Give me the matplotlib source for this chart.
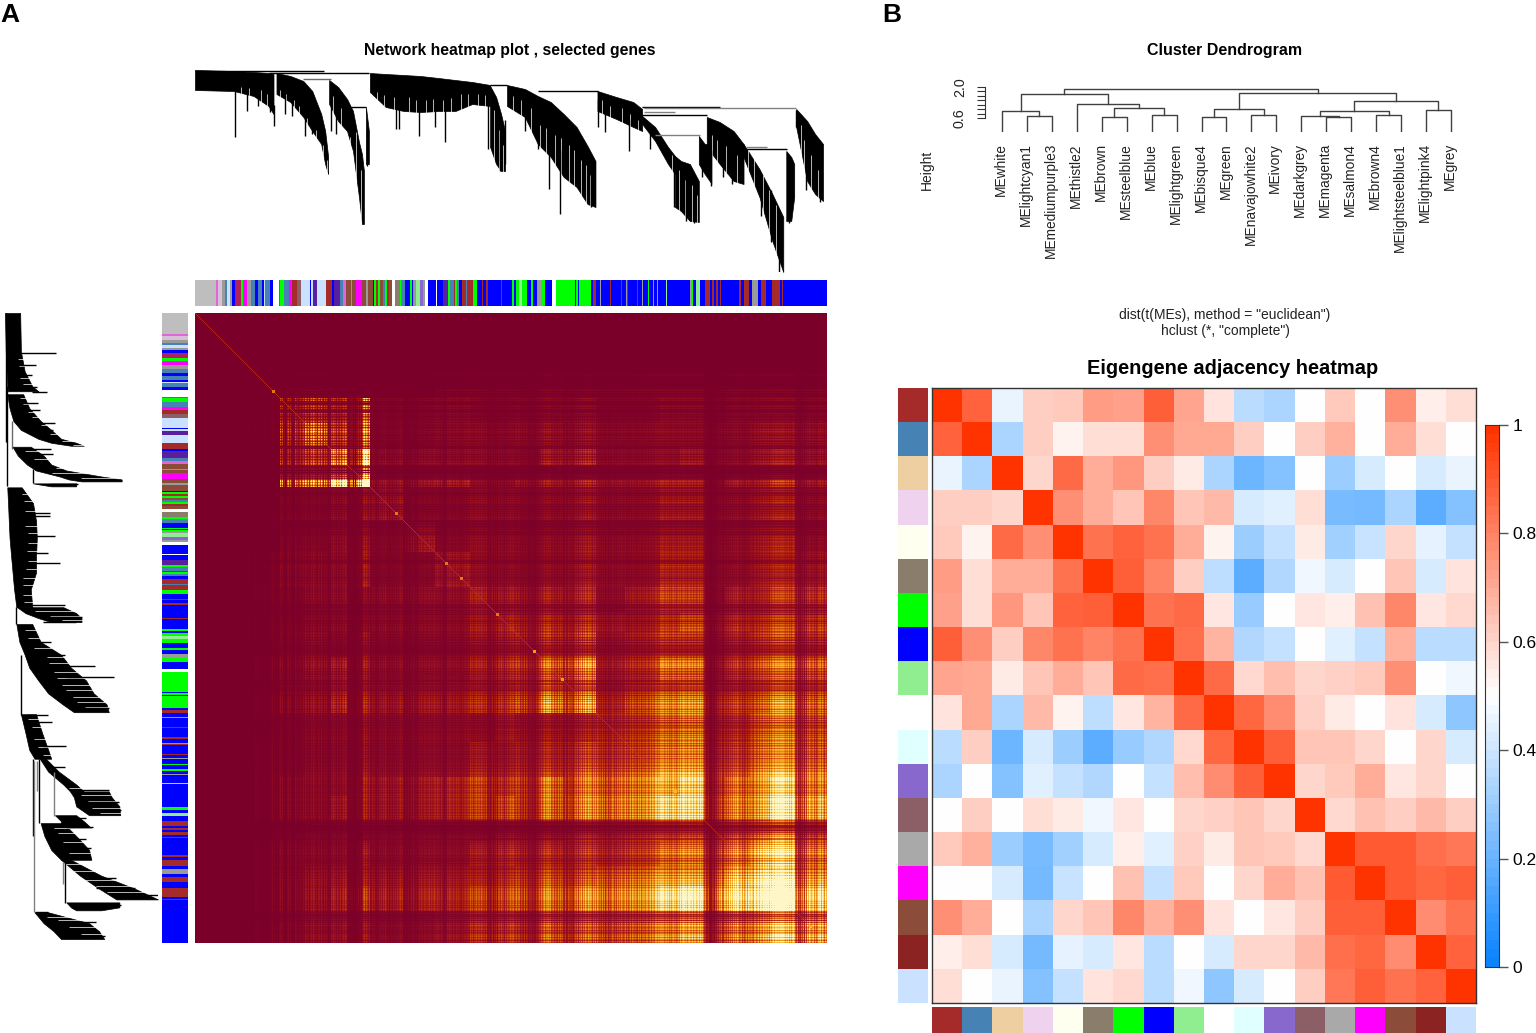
import numpy as np
from matplotlib import pyplot as plt
from matplotlib.colors import LinearSegmentedColormap, to_rgb

plt.rcParams['font.family'] = ['Liberation Sans', 'DejaVu Sans']

WIDTH, HEIGHT = 1536, 1033

# ---- panel A: gene modules in dendrogram order
moduleColors = {
    'grey': '#bebebe', 'orchid': '#e066d8', 'thistle': '#d8bfd8', 'gray': '#9a9a9a', 'steel': '#4682b4',
    'lsb': '#cae1ff', 'blue': '#0000ff', 'crimson': '#b0205a', 'green': '#00ff00', 'magenta': '#ff00ff',
    'white': '#ffffff', 'brown': '#a52a2a', 'rosy': '#8b5f65', 'purple': '#5a1ea0', 'sienna': '#8b4c39',
    'tan': '#8b7d6b', 'lightgreen': '#90ee90', 'medpurple': '#8968cd',
}
runNames = [
    'grey', 'orchid', 'thistle', 'gray', 'steel', 'lsb', 'gray', 'blue', 'crimson', 'green', 'steel', 'magenta',
    'gray', 'steel', 'blue', 'steel', 'blue', 'lsb', 'steel', 'blue', 'white', 'magenta', 'green', 'steel',
    'magenta', 'brown', 'rosy', 'lsb', 'blue', 'lsb', 'purple', 'lsb', 'brown', 'blue', 'purple', 'steel',
    'orchid', 'sienna', 'green', 'sienna', 'magenta', 'sienna', 'gray', 'sienna', 'blue', 'green', 'brown',
    'green', 'sienna', 'steel', 'green', 'brown', 'sienna', 'white', 'white', 'tan', 'green', 'tan', 'steel',
    'blue', 'blue', 'green', 'blue', 'green', 'gray', 'lightgreen', 'medpurple', 'gray', 'white', 'blue',
    'white', 'blue', 'purple', 'green', 'steel', 'brown', 'green', 'steel', 'blue', 'brown', 'steel', 'brown',
    'green', 'blue', 'brown', 'blue', 'brown', 'blue', 'brown', 'blue', 'green', 'blue', 'green', 'lightgreen',
    'green', 'blue', 'green', 'blue', 'gray', 'green', 'blue', 'white', 'green', 'blue', 'green', 'blue',
    'green', 'green', 'blue', 'brown', 'blue', 'gray', 'blue', 'brown', 'blue', 'brown', 'blue', 'gray',
    'brown', 'blue', 'brown', 'blue', 'gray', 'blue', 'green', 'blue', 'green', 'blue', 'gray', 'blue',
    'lightgreen', 'blue', 'gray', 'green', 'blue', 'lightgreen', 'blue', 'brown', 'blue', 'brown', 'blue',
    'brown', 'blue', 'brown', 'blue', 'brown', 'blue', 'brown', 'blue', 'gray', 'blue', 'brown', 'blue',
    'brown', 'blue', 'brown', 'blue',
]
runLengths = [
    20, 2, 4, 3, 2, 3, 2, 3, 5, 2, 1, 3,
    4, 4, 3, 4, 2, 1, 4, 3, 6, 1, 4, 5,
    3, 4, 4, 9, 1, 2, 4, 8, 6, 2, 6, 3,
    3, 5, 1, 3, 6, 4, 2, 5, 1, 2, 2,
    2, 2, 2, 2, 2, 3, 1, 2, 5, 1, 1, 3,
    3, 2, 1, 1, 1, 2, 4, 3, 2, 3, 8,
    1, 5, 5, 2, 4, 1, 2, 2, 3, 4, 1, 5,
    4, 5, 1, 3, 2, 12, 1, 10, 2, 2, 3, 3,
    4, 4, 2, 4, 4, 4, 7, 3, 19, 1, 2, 1,
    4, 7, 2, 3, 4, 1, 9, 1, 9, 1, 4, 1,
    1, 9, 1, 3, 1, 5, 1, 4, 1, 3, 1, 8,
    1, 22, 1, 2, 3, 3, 5, 5, 2, 2, 2,
    2, 2, 1, 17, 2, 3, 5, 3, 5, 3, 5, 6,
    8, 2, 1, 42,
]

# ---- panel A: tree, as depth below the root
branchGenes = [
    [0, 39, 59, 74, 79], [82, 96, 109, 118, 127, 131, 134], [135, 144, 153, 159, 165, 168, 170],
    [172, 175], [176, 192, 210, 227, 245, 262, 279, 297], [297, 303, 308, 312],
    [314, 332, 345, 358, 371, 384, 395, 403], [405, 424, 441, 450], [450, 463, 476, 483],
    [483, 489, 498, 507], [507, 513, 520], [515, 528, 542, 552], [552, 568, 581, 592],
    [595, 600, 603], [605, 616, 624, 632],
]
branchTops = [
    [0, 1, 2, 3, 4], [3, 6, 11, 21, 44, 61, 87], [10, 17, 29, 41, 72, 84, 101],
    [37, 61], [3, 4, 5, 6, 8, 10, 12, 15], [16, 27, 44, 61],
    [15, 19, 26, 32, 44, 57, 76, 91], [21, 27, 32, 39], [46, 57, 77, 86],
    [86, 91, 94, 111], [66, 74, 74], [47, 52, 61, 74], [74, 99, 124, 147],
    [81, 87, 94], [39, 51, 64, 74],
]
branchBottoms = [
    [20, 21, 26, 36, 44], [24, 32, 47, 61, 74, 94, 104], [34, 51, 61, 81, 127, 154, 154],
    [94, 94], [22, 37, 41, 42, 41, 41, 34, 36], [77, 94, 101, 101],
    [36, 47, 74, 87, 107, 117, 134, 137], [41, 49, 57, 61], [54, 71, 94, 104],
    [137, 141, 151, 152], [94, 104, 114], [77, 94, 111, 114], [87, 127, 171, 202],
    [151, 151, 127], [57, 111, 124, 131],
]
notchGenes = [46, 54, 66, 72, 86, 92, 100, 105, 113, 122, 129, 133, 139, 147, 156, 162, 167, 183, 190, 200, 215,
              222, 232, 240, 250, 258, 268, 275, 285, 292, 301, 306, 310, 320, 328, 338, 347, 353, 362, 368, 376,
              381, 388, 393, 398, 410, 418, 430, 438, 446, 480, 487, 493, 500, 505, 520, 525, 534, 545, 556, 563,
              572, 578, 585, 610, 613, 620, 627]
notchStarts = [17, 18, 20, 24, 20, 24, 30, 36, 48, 60, 75, 90, 26, 38, 50, 62, 100, 22, 25, 27, 27,
               30, 30, 29, 30, 28, 24, 24, 24, 25, 40, 60, 75, 26, 30, 38, 55, 58, 65, 68, 75,
               80, 90, 95, 105, 30, 36, 38, 44, 50, 85, 100, 110, 115, 125, 65, 70, 76, 85, 75, 85,
               105, 120, 135, 55, 70, 85, 100]
spikeGenes = [40, 52, 63, 75, 80, 91, 98, 111, 118, 137, 142, 156, 173, 202, 205, 225, 242, 252, 295, 307, 312,
              332, 345, 356, 367, 385, 391, 399, 406, 413, 437, 458, 482, 494, 502, 510, 519, 531, 540, 570, 580,
              588, 598, 601, 605, 615, 625, 629]
spikeStarts = [20, 20, 20, 30, 35, 25, 25, 40, 50, 25, 30, 45, 60, 35, 35, 40, 40, 40, 35, 50, 50,
               40, 60, 70, 80, 70, 80, 90, 30, 30, 50, 60, 100, 110, 110, 80, 80, 70, 70, 110, 120,
               140, 100, 90, 40, 80, 90, 90]
spikeEnds = [67, 41, 36, 42, 56, 44, 46, 66, 64, 61, 64, 67, 96, 59, 59, 66, 57, 72, 79, 101, 94,
             61, 79, 119, 144, 109, 126, 137, 57, 62, 81, 79, 137, 151, 153, 107, 116, 107, 114, 146, 172,
             202, 153, 129, 57, 120, 124, 132]
linkStarts = [74, 109, 157, 297, 345, 450, 452, 452, 450, 463, 554, 554, 0]
linkEnds = [175, 137, 172, 314, 406, 528, 605, 483, 515, 508, 576, 596, 130]
linkDepths = [3, 9, 37, 15, 21, 37, 38, 42, 45, 65, 77, 79, 1]
linkShades = ['black', 'dimgray', 'black', 'black', 'black', 'black', 'gray', 'gray', 'black', 'gray', 'gray',
              'black', 'black']

# ---- panel A: overlap levels, lower triangle, per block of genes
tomEdges = [0, 40, 85, 110, 133, 155, 175, 210, 240, 275, 300, 320, 345, 370, 401, 430, 465, 485, 510, 530, 555,
            575, 600, 632]
tomRows = [
    [0],
    [0, .2],
    [0, .2, 2.5],
    [0, .2, 3, 5],
    [0, 0, 2, 2.5, 4],
    [0, 0, 5, 5, 10, 30],
    [0, 0, .3, .3, .5, .8, .8],
    [0, 0, .3, .3, .5, .8, .3, .8],
    [0, .2, .5, .5, .5, 1, .3, .3, .8],
    [0, .2, .3, .5, .5, .5, .5, .5, .5, 1],
    [0, .2, .3, .5, .5, .5, .5, .5, .5, 1, 1.5],
    [0, .2, .5, .8, .5, 1, .5, .5, .5, 1, 1.5, 2],
    [0, .3, .5, .8, 1, 1, .5, .5, .5, 1, 1.5, 2, 2.5],
    [0, .3, .8, 1, 1.5, 1.5, 1, 1, 1, 1.5, 2, 3, 4, 5],
    [0, .2, .3, .5, .5, .8, .5, .5, .5, .5, 1, 1, 1, 1.5, 1.5],
    [0, .3, .3, .5, .5, .8, .5, .5, .5, 1, 1, 1.5, 1.5, 2.5, 2, 2.5],
    [0, .3, .5, .5, .5, 1, .8, .8, 1, 1.5, 1.5, 2, 2.5, 3, 2.5, 3, 3],
    [0, .3, .5, .5, .8, 1, .8, .8, 1, 1.5, 2, 2, 2.5, 3.5, 3, 3.5, 4, 4.5],
    [0, .2, .3, .5, .5, .5, .5, .5, .5, .5, 1, 1, 1, 2, 1.5, 2, 2, 2.5, 2.5],
    [0, .3, .5, .5, .5, 1, .5, .5, .5, 1, 1.5, 1.5, 1.5, 2, 1.5, 2, 2.5, 3, 3, 3.5],
    [0, .3, .5, .8, .8, 1, .8, .8, .8, 1, 1.5, 2, 2, 2.5, 2.5, 3, 3, 3.5, 4, 5, 6],
    [0, .3, .5, .8, 1, 1.5, 1, 1, 1, 1.5, 2, 2.5, 2.5, 3.5, 3, 3.5, 4, 5, 5, 5.5, 6, 7],
    [0, .3, .5, .8, .8, 1, .5, .5, .8, 1.5, 2, 2, 2.5, 3, 2.5, 3, 3, 4, 3, 3.5, 4, 5, 5],
]
# one digit per gene, how strongly it connects (6 is average)
geneLoadingLines = [
    '0000000000000000000000000000000000000000',
    '0010000001000010000031411020112010204815',
    '2131573612014625211163423524637536257486',
    '4526637426353121758663744736859721111101',
    '0112121379586473374632436574859636255364',
    '6475796831322413526334257586587667958679',
    '7586647532438697758658676547578689796857',
    '7968869767583342462535266475536475686785',
    '5746635436254233323224346475796889795674',
    '6547475633422433332454636574758658676475',
    '7586564746356354576464757586567464574765',
    '6547574666577568587699798999978979686897',
    '8679796898786897796886796978534223111221',
    '3243546336546475758686975674645747656547',
    '7568587697887968689799898999987879686897',
    '43523243526375865674645778586475',
]
hotGenes = [78, 120, 201, 251, 266, 302, 339, 367, 480, 615]
hotLevels = [4, 3, 4, 4, 4, 4, 5, 5, 6, 6]

# ---- panel B: module eigengene tree
meNames = ['MEwhite', 'MElightcyan1', 'MEmediumpurple3', 'MEthistle2', 'MEbrown', 'MEsteelblue', 'MEblue',
           'MElightgreen', 'MEbisque4', 'MEgreen', 'MEnavajowhite2', 'MEivory', 'MEdarkgrey', 'MEmagenta',
           'MEsalmon4', 'MEbrown4', 'MElightsteelblue1', 'MElightpink4', 'MEgrey']
# members are a leaf index or an earlier merge (as -1 - position in the list)
mergeLeft = [1, 0, 4, 6, -3, 3, 8, 10, -7, 13, 12, 15, -11, 17, -13, -9, -2, -17]
mergeRight = [2, -1, 5, 7, -4, -5, 9, 11, -8, 14, -10, 16, -12, 18, -14, -15, -6, -16]
mergeHeights = [0.70, 0.91, 0.64, 0.73, 1.04, 1.23, 0.67, 0.73, 1.03, 0.66, 0.69, 0.73, 0.92, 0.95, 1.35, 1.73,
                1.66, 1.88]
heightTicks = [0.6, 0.8, 1.0, 1.2, 1.4, 1.6, 1.8, 2.0]

# ---- panel B: eigengene adjacency
adjacencyColors = ['#a52a2a', '#4682b4', '#eecfa1', '#eed2ee', '#fffff0', '#8b7d6b', '#00ff00', '#0000ff', '#90ee90',
                   '#ffffff', '#e0ffff', '#8968cd', '#8b5f65', '#a9a9a9', '#ff00ff', '#8b4c39', '#8b2323', '#cae1ff']
adjacency = [
    [1, .88, .46, .62, .63, .74, .73, .89, .72, .57, .36, .33, .50, .63, .50, .77, .54, .58],
    [.88, 1, .33, .62, .53, .58, .58, .77, .71, .71, .62, .50, .62, .69, .50, .70, .58, .50],
    [.46, .33, 1, .60, .86, .70, .75, .62, .55, .33, .20, .25, .50, .30, .42, .50, .42, .46],
    [.62, .62, .60, 1, .77, .70, .64, .79, .64, .67, .42, .44, .58, .23, .22, .33, .17, .25],
    [.63, .53, .86, .77, 1, .84, .88, .84, .70, .53, .30, .38, .55, .31, .39, .60, .45, .38],
    [.74, .58, .70, .70, .84, 1, .89, .80, .62, .37, .17, .34, .47, .42, .50, .64, .42, .57],
    [.73, .58, .75, .64, .88, .89, 1, .84, .86, .56, .29, .50, .56, .54, .65, .79, .56, .59],
    [.89, .77, .62, .79, .84, .80, .84, 1, .85, .68, .34, .38, .50, .44, .38, .69, .36, .36],
    [.72, .71, .55, .64, .70, .64, .86, .85, 1, .86, .59, .66, .60, .61, .63, .77, .50, .47],
    [.57, .71, .33, .67, .53, .37, .56, .68, .86, 1, .87, .78, .61, .55, .50, .57, .42, .27],
    [.36, .62, .20, .42, .30, .17, .29, .34, .59, .87, 1, .89, .64, .64, .60, .50, .60, .42],
    [.33, .50, .25, .44, .38, .34, .50, .38, .66, .78, .89, 1, .60, .63, .70, .56, .60, .50],
    [.50, .62, .50, .58, .55, .47, .56, .50, .60, .61, .64, .60, 1, .59, .65, .62, .67, .62],
    [.63, .69, .30, .23, .31, .42, .54, .44, .61, .55, .64, .63, .59, 1, .90, .90, .85, .83],
    [.50, .50, .42, .22, .39, .50, .65, .38, .63, .50, .60, .70, .65, .90, 1, .90, .87, .89],
    [.77, .70, .50, .33, .60, .64, .79, .69, .77, .57, .50, .56, .62, .89, .89, 1, .78, .84],
    [.54, .58, .42, .22, .45, .42, .56, .36, .50, .42, .60, .60, .67, .85, .87, .78, 1, .88],
    [.58, .50, .46, .25, .38, .57, .59, .36, .47, .27, .42, .50, .62, .83, .89, .84, .88, 1],
]
colorbarTicks = [0, 0.2, 0.4, 0.6, 0.8, 1]
colorbarLabels = ['0', '0.2', '0.4', '0.6', '0.8', '1']

tomCmap = LinearSegmentedColormap.from_list('tom', ['#7b0029', '#9a1020', '#bb2a12', '#d24f0a', '#e57a0f', '#f09a1a',
                                                    '#f8b835', '#fcd060', '#fde68f', '#fff6c8'])
adjacencyCmap = LinearSegmentedColormap.from_list('adj', ['#0a84ff', '#ffffff', '#ff3300'])

fig = plt.figure(figsize=(WIDTH / 100, HEIGHT / 100), dpi=100, facecolor='white')


def pixelAxes(left, top, right, bottom):
    ax = fig.add_axes([left / WIDTH, 1 - bottom / HEIGHT, (right - left) / WIDTH, (bottom - top) / HEIGHT])
    ax.set_axis_off()
    return ax


def pixelText(x, y, text, **kwargs):
    fig.text(x / WIDTH, 1 - y / HEIGHT, text, **kwargs)


def drawTree(ax, sideways):
    notchEnds = [210] * len(notchGenes)
    for genes, tops, bottoms in zip(branchGenes, branchTops, branchBottoms):
        if sideways:
            ax.fill_betweenx(genes, tops, bottoms, color='black', lw=0.5)
        else:
            ax.fill_between(genes, tops, bottoms, color='black', lw=0.5)
    if sideways:
        ax.hlines(notchGenes, notchStarts, notchEnds, color='white', lw=0.5)
        ax.hlines(spikeGenes, spikeStarts, spikeEnds, color='black', lw=1)
        ax.vlines(linkDepths, linkStarts, linkEnds, colors=linkShades, lw=1)
        ax.set_xlim(0, 202)
        ax.set_ylim(636, 0)
    else:
        ax.vlines(notchGenes, notchStarts, notchEnds, color='white', lw=0.5)
        ax.vlines(spikeGenes, spikeStarts, spikeEnds, color='black', lw=1)
        ax.hlines(linkDepths, linkStarts, linkEnds, colors=linkShades, lw=1)
        ax.set_xlim(0, 636)
        ax.set_ylim(202, 0)


def buildOverlap():
    size = tomEdges[-1]
    blocks = np.zeros((size, size))
    for i, row in enumerate(tomRows):
        for j, level in enumerate(row):
            blocks[tomEdges[i]:tomEdges[i + 1], tomEdges[j]:tomEdges[j + 1]] = level
            blocks[tomEdges[j]:tomEdges[j + 1], tomEdges[i]:tomEdges[i + 1]] = level
    loading = np.array([int(d) for d in ''.join(geneLoadingLines)]) / 6
    overlap = blocks * np.outer(loading, loading) ** 1.1
    overlap[np.arange(size), np.arange(size)] = np.maximum(overlap.diagonal(), 2)
    for gene, level in zip(hotGenes, hotLevels):
        overlap[gene - 1:gene + 2, gene - 1:gene + 2] = level
    return overlap


# panel A
geneColors = np.array([to_rgb(moduleColors[name]) for name, n in zip(runNames, runLengths) for _ in range(n)])

drawTree(pixelAxes(195, 70, 827, 272), False)
drawTree(pixelAxes(5, 313, 158, 943), True)
pixelAxes(195, 280, 827, 306).imshow(geneColors[np.newaxis, :, :], aspect='auto', interpolation='nearest')
pixelAxes(162, 313, 188, 943).imshow(geneColors[:, np.newaxis, :], aspect='auto', interpolation='nearest')
pixelAxes(195, 313, 827, 943).imshow(buildOverlap(), cmap=tomCmap, vmin=0, vmax=9, aspect='auto',
                                     interpolation='nearest')

pixelText(0, 15, 'A', fontsize=19, fontweight='bold', ha='left', va='center')
pixelText(510, 51, 'Network heatmap plot , selected genes', fontsize=11.3, fontweight='bold', ha='center', va='center')

# panel B tree
treeAx = pixelAxes(960, 80, 1470, 132)
treeAx.set_xlim(960, 1470)
treeAx.set_ylim(0.6 - (132 - 118.3) / 22.6, 0.6 + (118.3 - 80) / 22.6)
leafX = [1002 + 24.94 * i for i in range(len(meNames))]
mergePoints = []
for left, right, height in zip(mergeLeft, mergeRight, mergeHeights):
    xs, ys = [], []
    for member in (left, right):
        if member >= 0:
            xs.append(leafX[member])
            ys.append(0.01)
        else:
            xs.append(mergePoints[-1 - member][0])
            ys.append(mergePoints[-1 - member][1])
    treeAx.plot([xs[0], xs[0], xs[1], xs[1]], [ys[0], height, height, ys[1]], color='#404040', lw=1)
    mergePoints.append((sum(xs) / 2, height))
for x, name in zip(leafX, meNames):
    pixelText(x - 1, 143, name, rotation=90, fontsize=9.9, color='#222222', ha='center', va='top')

treeAx.plot([985, 985], [heightTicks[0], heightTicks[-1]], color='#333333', lw=0.8)
treeAx.hlines(heightTicks, 977, 985, color='#333333', lw=0.8)
pixelText(960, 87, '2.0', rotation=90, fontsize=10.3, color='#222222', ha='center', va='center')
pixelText(960, 118, '0.6', rotation=90, fontsize=10.3, color='#222222', ha='center', va='center')
pixelText(927, 170, 'Height', rotation=90, fontsize=10, color='#222222', ha='center', va='center')
pixelText(1225, 51, 'Cluster Dendrogram', fontsize=11.5, fontweight='bold', ha='center', va='center')
pixelText(1225, 315, 'dist(t(MEs), method = "euclidean")', fontsize=10, color='#222222', ha='center', va='center')
pixelText(1225, 331, 'hclust (*, "complete")', fontsize=10, color='#222222', ha='center', va='center')
pixelText(882, 15, 'B', fontsize=19, fontweight='bold', ha='left', va='center')

# panel B heatmap
heatAx = pixelAxes(932, 388, 1476, 1003)
heatAx.set_axis_on()
heatAx.imshow(np.array(adjacency), cmap=adjacencyCmap, vmin=0, vmax=1, aspect='auto', interpolation='nearest')
heatAx.set_xticks([])
heatAx.set_yticks([])
for spine in heatAx.spines.values():
    spine.set_linewidth(1)
    spine.set_color('#333333')
pixelText(1233, 369, 'Eigengene adjacency heatmap', fontsize=14.4, fontweight='bold', ha='center', va='center')

swatches = np.array([to_rgb(c) for c in adjacencyColors])
pixelAxes(898, 388, 928, 1003).imshow(swatches[:, np.newaxis, :], aspect='auto', interpolation='nearest')
pixelAxes(932, 1007, 1476, 1033).imshow(swatches[np.newaxis, :, :], aspect='auto', interpolation='nearest')

barAx = pixelAxes(1485, 425, 1499, 967)
barAx.set_axis_on()
barAx.imshow(np.linspace(1, 0, 60)[:, np.newaxis], cmap=adjacencyCmap, vmin=0, vmax=1, aspect='auto',
             extent=(0, 1, 0, 1))
barAx.set_xticks([])
barAx.yaxis.tick_right()
barAx.set_yticks(colorbarTicks, colorbarLabels, fontsize=12.5)
barAx.tick_params(axis='y', length=6.5, width=1, color='#555555', pad=3)
for spine in barAx.spines.values():
    spine.set_linewidth(0.8)
    spine.set_color('#333333')

fig.savefig('out.png', dpi=100)
